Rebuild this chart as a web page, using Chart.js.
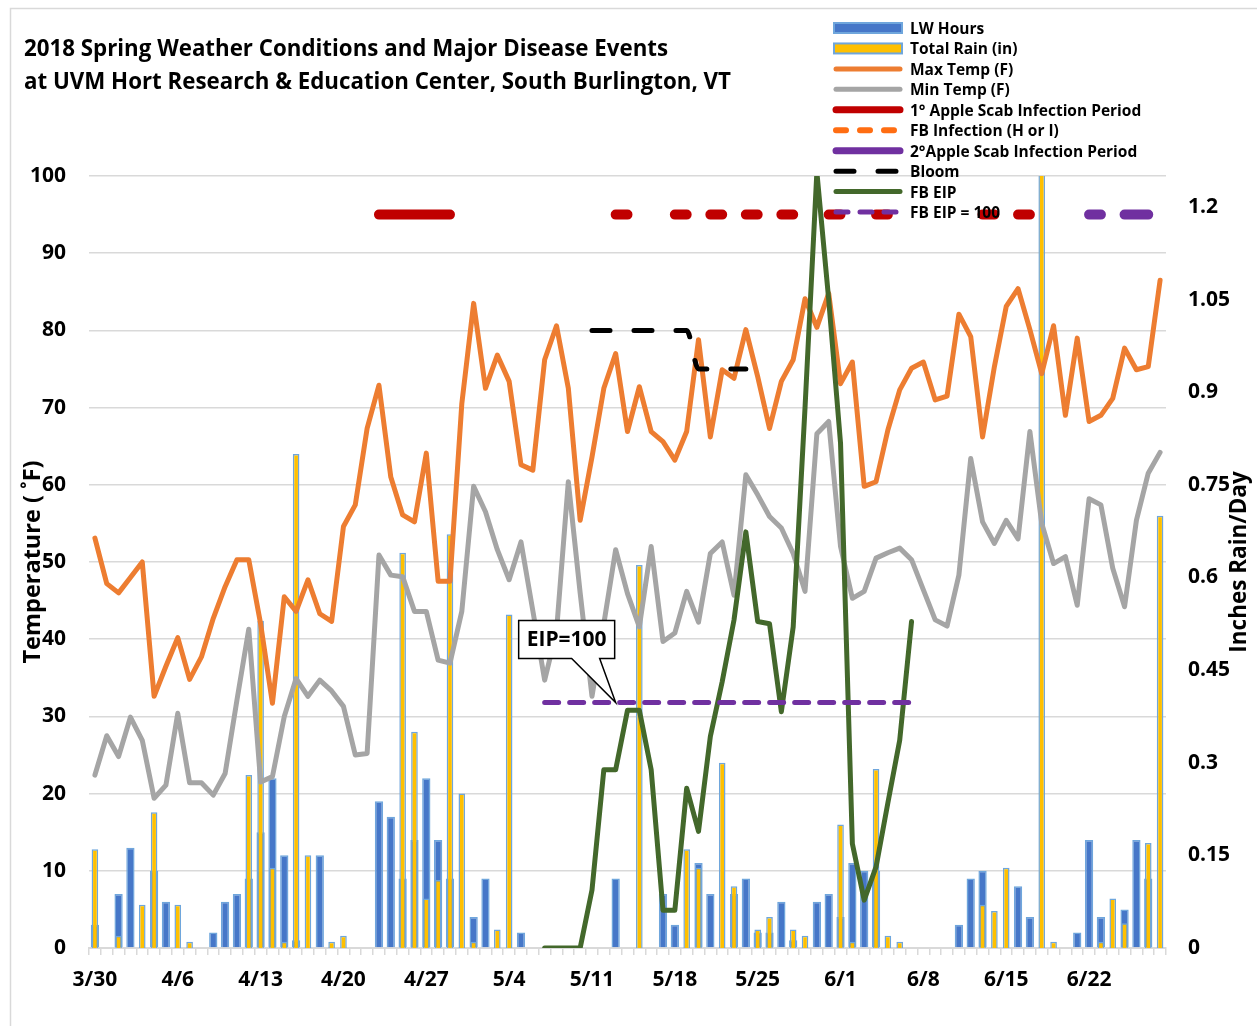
<!DOCTYPE html>
<html>
<head>
<meta charset="utf-8">
<title>2018 Spring Weather Conditions and Major Disease Events</title>
<script src="https://cdn.jsdelivr.net/npm/chart.js@4.4.1/dist/chart.umd.min.js"></script>
<style>
  html, body { margin: 0; padding: 0; background: #fff; }
  #wrap { width: 1257px; height: 1026px; }
</style>
</head>
<body>
<div id="wrap"><canvas id="weather-chart" width="1257" height="1026"></canvas></div>
<script>
// Weather / disease chart data
const _ = null;

const titleLines = [
    '2018 Spring Weather Conditions and Major Disease Events',
    'at UVM Hort Research & Education Center, South Burlington, VT'
];

const dates = [
    '3/30','3/31','4/1','4/2','4/3','4/4','4/5',
    '4/6','4/7','4/8','4/9','4/10','4/11','4/12',
    '4/13','4/14','4/15','4/16','4/17','4/18','4/19',
    '4/20','4/21','4/22','4/23','4/24','4/25','4/26',
    '4/27','4/28','4/29','4/30','5/1','5/2','5/3',
    '5/4','5/5','5/6','5/7','5/8','5/9','5/10',
    '5/11','5/12','5/13','5/14','5/15','5/16','5/17',
    '5/18','5/19','5/20','5/21','5/22','5/23','5/24',
    '5/25','5/26','5/27','5/28','5/29','5/30','5/31',
    '6/1','6/2','6/3','6/4','6/5','6/6','6/7',
    '6/8','6/9','6/10','6/11','6/12','6/13','6/14',
    '6/15','6/16','6/17','6/18','6/19','6/20','6/21',
    '6/22','6/23','6/24','6/25','6/26','6/27','6/28'
];

// leaf wetness hours (left axis)
const lwHours = [
    3, _, 7, 13, _, 10, 6,
    _, _, _, 2, 6, 7, 9,
    15, 22, 12, 1, _, 12, _,
    _, _, _, 19, 17, 9, 14,
    22, 14, 9, _, 4, 9, _,
    _, 2, _, _, _, _, _,
    _, _, 9, _, _, _, 7,
    3, _, 11, 7, _, 7, 9,
    2, 2, 6, 1, _, 6, 7,
    4, 11, 10, 10, _, _, _,
    _, _, _, 3, 9, 10, _,
    _, 8, 4, _, _, _, 2,
    14, 4, _, 5, 14, 9, _
];

// total rain, inches (right axis)
const rainInches = [
    0.16, _, 0.02, _, 0.07, 0.22, _,
    0.07, 0.01, _, _, _, _, 0.28,
    0.53, 0.13, 0.01, 0.80, 0.15, _, 0.01,
    0.02, _, _, _, _, 0.64, 0.35,
    0.08, 0.11, 0.67, 0.25, 0.01, _, 0.03,
    0.54, _, _, _, _, _, _,
    _, _, _, _, 0.62, _, _,
    _, 0.16, 0.13, _, 0.30, 0.10, _,
    0.03, 0.05, _, 0.03, 0.02, _, _,
    0.20, 0.01, _, 0.29, 0.02, 0.01, _,
    _, _, _, _, _, 0.07, 0.06,
    0.13, _, _, 1.45, 0.01, _, _,
    _, 0.01, 0.08, 0.04, _, 0.17, 0.70
];

const maxTemp = [
    53.1, 47.2, 46.0, 48.0, 50.0, 32.6, 36.5,
    40.2, 34.8, 37.7, 42.7, 46.8, 50.3, 50.3,
    42.0, 31.7, 45.5, 43.6, 47.7, 43.3, 42.3,
    54.6, 57.4, 67.3, 72.9, 61.0, 56.1, 55.2,
    64.1, 47.5, 47.5, 70.5, 83.5, 72.5, 76.8,
    73.4, 62.6, 61.9, 76.2, 80.6, 72.5, 55.4,
    63.6, 72.5, 77.0, 66.9, 72.7, 66.9, 65.6,
    63.2, 66.9, 78.8, 66.2, 74.9, 73.8, 80.1,
    74.0, 67.3, 73.4, 76.2, 84.1, 80.4, 84.8,
    73.1, 75.9, 59.8, 60.4, 67.1, 72.3, 75.1,
    75.9, 71.0, 71.5, 82.1, 79.2, 66.2, 75.3,
    83.1, 85.4, 80.1, 74.4, 80.6, 69.0, 79.0,
    68.2, 69.0, 71.2, 77.7, 74.9, 75.3, 86.5
];

const minTemp = [
    22.4, 27.5, 24.8, 29.9, 26.9, 19.4, 21.1,
    30.4, 21.4, 21.4, 19.8, 22.6, 32.1, 41.3,
    21.5, 22.2, 30.0, 34.9, 32.6, 34.7, 33.3,
    31.3, 25.0, 25.2, 50.9, 48.3, 48.1, 43.6,
    43.6, 37.3, 36.9, 43.6, 59.8, 56.5, 51.6,
    47.7, 52.6, 43.7, 34.7, 41.0, 60.4, 46.0,
    32.6, 42.0, 51.6, 45.9, 41.6, 52.0, 39.7,
    40.8, 46.2, 42.2, 51.1, 52.6, 45.7, 61.3,
    58.7, 55.9, 54.4, 51.1, 46.2, 66.6, 68.2,
    52.0, 45.3, 46.2, 50.5, 51.2, 51.8, 50.3,
    46.4, 42.5, 41.7, 48.3, 63.4, 55.2, 52.4,
    55.4, 53.0, 66.9, 55.0, 49.8, 50.7, 44.4,
    58.2, 57.4, 49.2, 44.2, 55.4, 61.5, 64.2
];

// infection periods, drawn at 95 on the temperature scale
const scab1 = [
    _, _, _, _, _, _, _,
    _, _, _, _, _, _, _,
    _, _, _, _, _, _, _,
    _, _, _, 95, 95, 95, 95,
    95, 95, 95, _, _, _, _,
    _, _, _, _, _, _, _,
    _, _, 95, 95, _, _, _,
    95, 95, _, 95, 95, _, 95,
    95, _, 95, 95, _, _, 95,
    95, _, _, 95, 95, _, _,
    _, _, _, _, _, 95, 95,
    _, 95, 95, _, _, _, _,
    _, _, _, _, _, _, _
];

const scab2 = [
    _, _, _, _, _, _, _,
    _, _, _, _, _, _, _,
    _, _, _, _, _, _, _,
    _, _, _, _, _, _, _,
    _, _, _, _, _, _, _,
    _, _, _, _, _, _, _,
    _, _, _, _, _, _, _,
    _, _, _, _, _, _, _,
    _, _, _, _, _, _, _,
    _, _, _, _, _, _, _,
    _, _, _, _, _, _, _,
    _, _, _, _, _, _, _,
    95, 95, _, 95, 95, 95, _
];

// no fire blight infection days this season (legend entry only)
const fbInfection = dates.map(() => null);

const bloom = [
    _, _, _, _, _, _, _,
    _, _, _, _, _, _, _,
    _, _, _, _, _, _, _,
    _, _, _, _, _, _, _,
    _, _, _, _, _, _, _,
    _, _, _, _, _, _, _,
    80, 80, 80, 80, 80, 80, 80,
    80, 80, 75, 75, 75, 75, 75,
    _, _, _, _, _, _, _,
    _, _, _, _, _, _, _,
    _, _, _, _, _, _, _,
    _, _, _, _, _, _, _,
    _, _, _, _, _, _, _
];

// FB EIP, plotted on the temperature scale
const fbEip = [
    _, _, _, _, _, _, _,
    _, _, _, _, _, _, _,
    _, _, _, _, _, _, _,
    _, _, _, _, _, _, _,
    _, _, _, _, _, _, _,
    _, _, _, 0, 0, 0, 0,
    7.5, 23.1, 23.1, 30.8, 30.8, 23.1, 4.9,
    4.9, 20.7, 15.1, 27.4, 34.5, 42.5, 53.9,
    42.3, 42.0, 30.6, 41.6, 70.0, 100.5, 84.0,
    65.4, 13.5, 6.2, 10.5, 18.8, 26.9, 42.3,
    _, _, _, _, _, _, _,
    _, _, _, _, _, _, _,
    _, _, _, _, _, _, _
];

const eip100 = [
    _, _, _, _, _, _, _,
    _, _, _, _, _, _, _,
    _, _, _, _, _, _, _,
    _, _, _, _, _, _, _,
    _, _, _, _, _, _, _,
    _, _, _, 31.8, 31.8, 31.8, 31.8,
    31.8, 31.8, 31.8, 31.8, 31.8, 31.8, 31.8,
    31.8, 31.8, 31.8, 31.8, 31.8, 31.8, 31.8,
    31.8, 31.8, 31.8, 31.8, 31.8, 31.8, 31.8,
    31.8, 31.8, 31.8, 31.8, 31.8, 31.8, 31.8,
    _, _, _, _, _, _, _,
    _, _, _, _, _, _, _,
    _, _, _, _, _, _, _
];

const tempTicks = { min: 0, max: 100, step: 10 };
const rainTicks = { min: 0, max: 1.25, step: 0.15, top: 1.2 };
const calloutIndex = 44;   // where the "EIP=100" callout points

const FONT = '"Open Sans", Lato, sans-serif';
const GRID = '#d9d9d9';

// 1. Titles, frame, callout and the legend are drawn by hand
const decorations = {
    id: 'decorations',
    beforeDraw(chart) {
        const ctx = chart.ctx;
        ctx.save();
        ctx.fillStyle = '#fff';
        ctx.fillRect(0, 0, chart.width, chart.height);
        ctx.restore();
    },
    afterDatasetsDraw(chart) {
        // "EIP=100" callout box
        const ctx = chart.ctx;
        const tipX = chart.scales.x.getPixelForValue(calloutIndex);
        const tipY = chart.scales.y.getPixelForValue(eip100[calloutIndex]);
        const left = tipX - 97, right = tipX - 1, top = tipY - 82, bottom = tipY - 44;
        ctx.save();
        ctx.beginPath();
        ctx.moveTo(left, top);
        ctx.lineTo(right, top);
        ctx.lineTo(right, bottom);
        ctx.lineTo(tipX - 16, bottom);
        ctx.lineTo(tipX, tipY);
        ctx.lineTo(tipX - 44, bottom);
        ctx.lineTo(left, bottom);
        ctx.closePath();
        ctx.fillStyle = '#fff';
        ctx.fill();
        ctx.strokeStyle = '#000';
        ctx.lineWidth = 1.5;
        ctx.stroke();
        ctx.fillStyle = '#000';
        ctx.font = 'bold 21px ' + FONT;
        ctx.textAlign = 'center';
        ctx.textBaseline = 'middle';
        ctx.fillText('EIP=100', (left + right) / 2, (top + bottom) / 2 + 1);
        ctx.restore();
    },
    afterDraw(chart) {
        const ctx = chart.ctx;
        const area = chart.chartArea;
        ctx.save();

        // frame
        ctx.strokeStyle = GRID;
        ctx.lineWidth = 1.5;
        ctx.beginPath();
        ctx.moveTo(10.5, chart.height);
        ctx.lineTo(10.5, 8.5);
        ctx.lineTo(chart.width, 8.5);
        ctx.stroke();

        // title
        ctx.fillStyle = '#000';
        ctx.font = 'bold 22.3px ' + FONT;
        ctx.textAlign = 'left';
        ctx.textBaseline = 'middle';
        titleLines.forEach(function(line, i) {
            ctx.fillText(line, 24, 50 + i * 33);
        });

        // axis titles (both read bottom to top)
        const midY = (area.top + area.bottom) / 2;
        [['Temperature ( ˚F)', 33, 23.5], ['Inches Rain/Day', 1240, 22.5]].forEach(function(t) {
            ctx.save();
            ctx.translate(t[1], midY);
            ctx.rotate(-Math.PI / 2);
            ctx.textAlign = 'center';
            ctx.font = 'bold ' + t[2] + 'px ' + FONT;
            ctx.fillText(t[0], 0, 0);
            ctx.restore();
        });

        // legend
        const lx = 833, ly = 28, rowH = 20.45, symW = 70;
        ctx.font = 'bold 15.5px ' + FONT;
        chart.data.datasets.forEach(function(ds, i) {
            const y = ly + i * rowH;
            if (ds.type === 'bar') {
                ctx.fillStyle = ds.backgroundColor;
                ctx.fillRect(lx + 1, y - 5, symW - 2, 10);
                ctx.strokeStyle = ds.borderColor;
                ctx.lineWidth = 2;
                ctx.strokeRect(lx + 1, y - 5, symW - 2, 10);
            } else {
                ctx.strokeStyle = ds.borderColor;
                ctx.lineWidth = ds.legendWidth || ds.borderWidth;
                ctx.lineCap = 'round';
                ctx.setLineDash(ds.legendDash || ds.borderDash || []);
                ctx.beginPath();
                ctx.moveTo(lx + 3, y);
                ctx.lineTo(lx + symW - 3, y);
                ctx.stroke();
                ctx.setLineDash([]);
            }
            ctx.fillStyle = '#000';
            ctx.fillText(ds.label, lx + 77, y + 1.5);
        });
        ctx.restore();
    }
};

// 2. Line dataset helper
function lineSet(label, data, color, width, extra) {
    return Object.assign({
        type: 'line',
        label: label,
        data: data,
        yAxisID: 'y',
        borderColor: color,
        backgroundColor: color,
        borderWidth: width,
        pointRadius: 0,
        pointHoverRadius: 0,
        tension: 0,
        fill: false,
        spanGaps: false,
        borderCapStyle: 'round',
        borderJoinStyle: 'round'
    }, extra || {});
}

const tickFont = { family: FONT, size: 21, weight: 'bold' };

new Chart(document.getElementById('weather-chart'), {
    type: 'bar',
    data: {
        labels: dates,
        datasets: [
            {
                type: 'bar',
                label: 'LW Hours',
                data: lwHours,
                yAxisID: 'y',
                backgroundColor: '#4677c8',
                borderColor: '#6fa6dc',
                borderWidth: 1.5,
                barPercentage: 0.7,
                categoryPercentage: 1,
                grouped: false,
                order: 20
            },
            {
                type: 'bar',
                label: 'Total Rain (in)',
                data: rainInches,
                yAxisID: 'y1',
                backgroundColor: '#ffc000',
                borderColor: '#6fa6dc',
                borderWidth: 1.5,
                barPercentage: 0.56,
                categoryPercentage: 1,
                grouped: false,
                order: 19
            },
            lineSet('Max Temp (F)', maxTemp, '#ed7d31', 5, { order: 18 }),
            lineSet('Min Temp (F)', minTemp, '#a5a5a5', 5, { order: 17 }),
            lineSet('1° Apple Scab Infection Period', scab1, '#c00000', 10, { order: 16, legendWidth: 7 }),
            lineSet('FB Infection (H or I)', fbInfection, '#ff6d12', 6, { order: 15, borderDash: [10, 14] }),
            lineSet('2°Apple Scab Infection Period', scab2, '#7030a0', 10, { order: 14, legendWidth: 7 }),
            lineSet('Bloom', bloom, '#000000', 5, { order: 13, borderDash: [18, 24], cubicInterpolationMode: 'monotone' }),
            lineSet('FB EIP', fbEip, '#43682b', 5, { order: 12 }),
            lineSet('FB EIP = 100', eip100, '#7030a0', 5, { order: 11, borderDash: [14, 11], legendDash: [12, 12] })
        ]
    },
    options: {
        responsive: false,
        devicePixelRatio: 1,
        animation: false,
        events: [],
        layout: { padding: { top: 176, left: 0, right: 0, bottom: 0 } },
        plugins: {
            legend: { display: false },
            title: { display: false },
            tooltip: { enabled: false }
        },
        scales: {
            x: {
                offset: true,
                grid: { offset: true, drawOnChartArea: false, tickLength: 7, color: GRID, lineWidth: 1.5 },
                border: { color: GRID, width: 2 },
                ticks: {
                    autoSkip: false,
                    maxRotation: 0,
                    minRotation: 0,
                    padding: 12,
                    color: '#000',
                    font: tickFont,
                    callback: function(value, index) {
                        return index % 7 === 0 ? this.getLabelForValue(value) : '';
                    }
                },
                afterFit: function(scale) { scale.height = 78; }
            },
            y: {
                position: 'left',
                min: tempTicks.min,
                max: tempTicks.max,
                ticks: { stepSize: tempTicks.step, padding: 23, color: '#000', font: tickFont },
                grid: { color: GRID, lineWidth: 1.5, drawTicks: false },
                border: { display: false },
                afterFit: function(scale) { scale.width = 89; }
            },
            y1: {
                position: 'right',
                min: rainTicks.min,
                max: rainTicks.max,
                ticks: {
                    stepSize: rainTicks.step,
                    padding: 22,
                    color: '#000',
                    font: tickFont,
                    callback: function(value) { return String(Number(value.toFixed(2))); }
                },
                grid: { display: false, drawTicks: false },
                border: { display: false },
                afterBuildTicks: function(scale) {
                    scale.ticks = scale.ticks.filter(function(t) { return t.value <= rainTicks.top + 1e-9; });
                },
                afterFit: function(scale) { scale.width = 91; }
            }
        }
    },
    plugins: [decorations]
});
</script>
</body>
</html>
